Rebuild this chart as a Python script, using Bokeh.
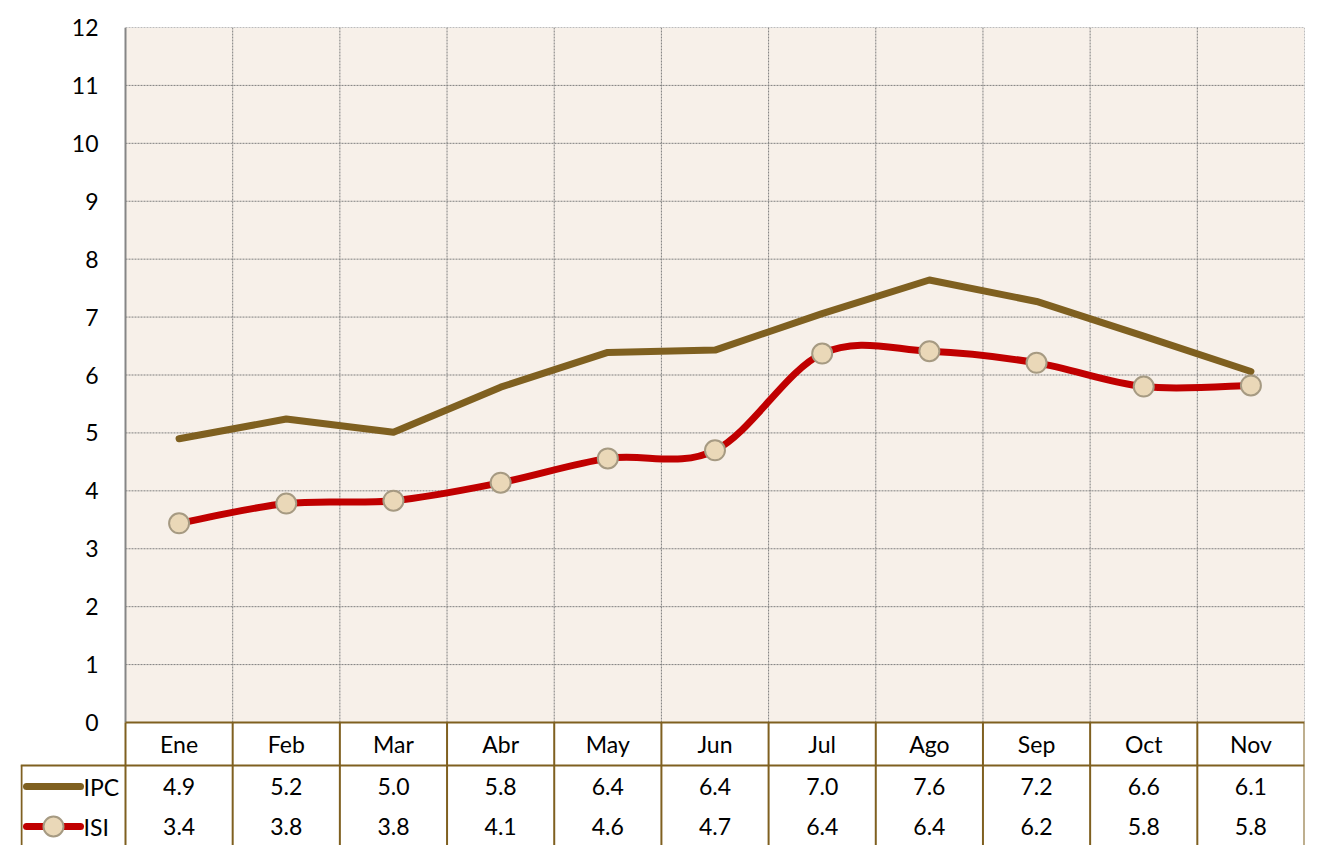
from bokeh.plotting import figure
from bokeh.models import Range1d, FixedTicker, LinearAxis, BoxAnnotation
from bokeh.core.properties import value
from bokeh.embed import file_html
from bokeh.resources import INLINE

months = ["Ene", "Feb", "Mar", "Abr", "May", "Jun", "Jul", "Ago", "Sep", "Oct", "Nov"]
ipc = [4.90, 5.24, 5.01, 5.79, 6.39, 6.43, 7.06, 7.64, 7.27, 6.67, 6.06]
isi = [3.44, 3.78, 3.83, 4.14, 4.56, 4.70, 6.37, 6.41, 6.21, 5.80, 5.82]
ipc_labels = ["4.9", "5.2", "5.0", "5.8", "6.4", "6.4", "7.0", "7.6", "7.2", "6.6", "6.1"]
isi_labels = ["3.4", "3.8", "3.8", "4.1", "4.6", "4.7", "6.4", "6.4", "6.2", "5.8", "5.8"]
series_names = ["IPC", "ISI"]
y_ticks = list(range(0, 13))

FONT = "Lato"
FS = "23px"
IPC_COL = "#7F6020"
ISI_COL = "#C00000"
MK_FILL = "#EAD8B8"
MK_LINE = "#A69A82"
BORDER = "#7F6020"
GRID = "#7F7F7F"
BG = "#F7F0E9"

n = len(months)
xs = [i + 0.5 for i in range(n)]

PX = 1179 / n           # pixels per category
UY = 695 / 12           # pixels per y unit
L = 105 / PX            # legend column width (category units)
YB = -123 / UY          # bottom of visible table

p = figure(width=1324, height=845, output_backend="svg", toolbar_location=None,
           x_range=Range1d(-L, n), y_range=Range1d(YB, 12),
           min_border_left=20, min_border_right=20, min_border_top=27, min_border_bottom=0,
           background_fill_color="white", border_fill_color="white", outline_line_color=None)
p.xaxis.visible = False
p.yaxis.visible = False
p.xgrid.visible = False
p.ygrid.visible = False

# plot area background
p.add_layout(BoxAnnotation(left=0, right=n, bottom=0, top=12, fill_color=BG, fill_alpha=1,
                           line_color=None, level="underlay"))

# y axis (labels placed inside the frame region reserved for the legend column)
yax = LinearAxis(ticker=FixedTicker(ticks=y_ticks), bounds=(0, 12))
yax.axis_line_color = None
yax.major_tick_line_color = None
yax.minor_tick_line_color = None
yax.major_label_text_font = FONT
yax.major_label_text_font_size = FS
yax.major_label_text_color = "black"
yax.major_label_standoff = -84
p.add_layout(yax, "left")

# grid lines (dotted)
p.segment(x0=[0] * 12, x1=[n] * 12, y0=y_ticks[1:], y1=y_ticks[1:],
          line_color=GRID, line_width=1, line_dash="2 1")
p.segment(x0=list(range(1, n + 1)), x1=list(range(1, n + 1)), y0=[0] * n, y1=[12] * n,
          line_color=GRID, line_width=1, line_dash="2 1")
# value axis line
p.segment(x0=[0], x1=[0], y0=[0], y1=[12], line_color="#868686", line_width=2)

# IPC straight line
p.line(xs, ipc, line_color=IPC_COL, line_width=7, line_join="round", line_cap="round")

# ISI smoothed line (Catmull-Rom -> cubic bezier)
x0s, y0s, x1s, y1s, cx0, cy0, cx1, cy1 = [], [], [], [], [], [], [], []
for i in range(n - 1):
    xp, yp = (xs[i - 1], isi[i - 1]) if i > 0 else (xs[i], isi[i])
    xn, yn = (xs[i + 2], isi[i + 2]) if i + 2 < n else (xs[i + 1], isi[i + 1])
    x0s.append(xs[i]); y0s.append(isi[i]); x1s.append(xs[i + 1]); y1s.append(isi[i + 1])
    cx0.append(xs[i] + (xs[i + 1] - xp) / 6); cy0.append(isi[i] + (isi[i + 1] - yp) / 6)
    cx1.append(xs[i + 1] - (xn - xs[i]) / 6); cy1.append(isi[i + 1] - (yn - isi[i]) / 6)
p.bezier(x0=x0s, y0=y0s, x1=x1s, y1=y1s, cx0=cx0, cy0=cy0, cx1=cx1, cy1=cy1,
         line_color=ISI_COL, line_width=7, line_cap="round")
p.scatter(xs, isi, size=20, fill_color=MK_FILL, line_color=MK_LINE, line_width=2)

# ---------------- data table ----------------
r1 = -43 / UY      # header bottom
r_hdr = -21 / UY   # header text center
y_ipc = -64 / UY
y_isi = -104 / UY

p.segment(x0=[0, -L], x1=[n, n], y0=[0, r1], y1=[0, r1], line_color=BORDER, line_width=2)
vx = list(range(0, n + 1))
p.segment(x0=vx, x1=vx, y0=[0] * len(vx), y1=[YB] * len(vx), line_color=BORDER, line_width=2)
p.segment(x0=[-L + 1 / PX], x1=[-L + 1 / PX], y0=[r1], y1=[YB], line_color=BORDER, line_width=2)

txt = dict(text_font=value(FONT), text_font_size=FS, text_color="black",
           text_align="center", text_baseline="middle")
p.text(x=xs, y=[r_hdr] * n, text=months, **txt)
p.text(x=xs, y=[y_ipc] * n, text=ipc_labels, **txt)
p.text(x=xs, y=[y_isi] * n, text=isi_labels, **txt)

# legend keys
lx0 = -L + 6 / PX
lx1 = -L + 60 / PX
p.segment(x0=[lx0], x1=[lx1], y0=[y_ipc], y1=[y_ipc], line_color=IPC_COL, line_width=7, line_cap="round")
p.segment(x0=[lx0], x1=[lx1], y0=[y_isi], y1=[y_isi], line_color=ISI_COL, line_width=7, line_cap="round")
p.scatter([(lx0 + lx1) / 2], [y_isi], size=20, fill_color=MK_FILL, line_color=MK_LINE, line_width=2)
p.text(x=[lx1 + 3 / PX] * 2, y=[y_ipc, y_isi], text=series_names,
       text_font=value(FONT), text_font_size=FS, text_color="black",
       text_align="left", text_baseline="middle")

open("out.html", "w").write(file_html(p, INLINE))
